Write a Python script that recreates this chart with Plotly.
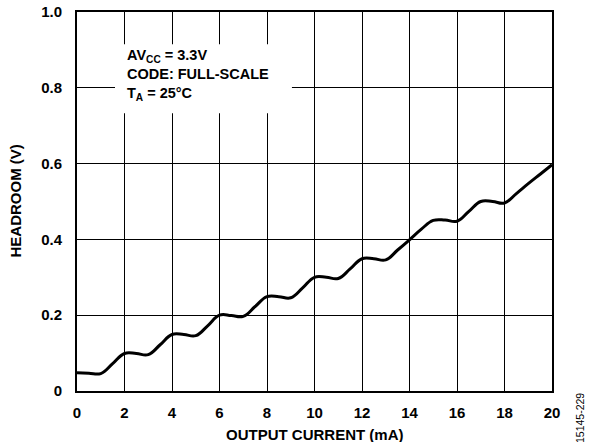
import plotly.graph_objects as go

output_current_ma = [0, 0.5, 1, 1.5, 2, 2.5, 3, 3.5, 4, 4.5, 5, 5.5, 6, 6.5, 7, 7.5, 8, 8.5, 9, 9.5,
                     10, 10.5, 11, 11.5, 12, 12.5, 13, 13.5, 14, 14.5, 15, 15.5, 16, 16.5, 17, 17.5,
                     18, 18.5, 19, 19.5, 20]
headroom_v = [0.048, 0.047, 0.046, 0.072, 0.099, 0.099, 0.096, 0.122, 0.149, 0.149, 0.146, 0.172,
              0.200, 0.199, 0.197, 0.223, 0.249, 0.249, 0.246, 0.272, 0.300, 0.300, 0.297, 0.322,
              0.349, 0.349, 0.346, 0.372, 0.399, 0.427, 0.450, 0.451, 0.448, 0.474, 0.500, 0.500,
              0.496, 0.521, 0.547, 0.572, 0.597]

x_tick_vals = [0, 2, 4, 6, 8, 10, 12, 14, 16, 18, 20]
y_tick_vals = [0, 0.2, 0.4, 0.6, 0.8, 1.0]
y_tick_text = ["0", "0.2", "0.4", "0.6", "0.8", "1.0"]

FONT = "Liberation Sans, Arial, sans-serif"
FS = 15

fig = go.Figure()
fig.add_trace(go.Scatter(
    x=output_current_ma, y=headroom_v, mode="lines",
    line=dict(color="black", width=3, shape="spline", smoothing=1.2),
    showlegend=False, hoverinfo="skip",
))

# white box behind the condition text (covers grid lines)
fig.add_shape(type="rect", xref="x", yref="y", x0=1.6, x1=9.05, y0=0.733, y1=0.915,
              fillcolor="white", line=dict(width=0), layer="above")
fig.add_annotation(
    xref="x", yref="y", x=2.0, y=0.912, xanchor="left", yanchor="top",
    text="AV<sub>CC</sub> = 3.3V<br>CODE: FULL-SCALE<br>T<sub>A</sub> = 25°C",
    showarrow=False, align="left",
    font=dict(family=FONT, size=14.5, color="black", weight="bold"),
)
# axis titles
fig.add_annotation(
    xref="paper", yref="paper", x=0.5, y=0, yshift=-43, xanchor="center", yanchor="middle",
    text="OUTPUT CURRENT (mA)", showarrow=False,
    font=dict(family=FONT, size=FS, color="black", weight="bold"),
)
fig.add_annotation(
    xref="paper", yref="paper", x=0, y=0.5, xshift=-62, xanchor="center", yanchor="middle",
    text="HEADROOM (V)", showarrow=False, textangle=-90,
    font=dict(family=FONT, size=FS, color="black", weight="bold"),
)
# figure id
fig.add_annotation(
    xref="paper", yref="paper", x=1.0, y=0.0, xshift=28, yshift=-27,
    xanchor="center", yanchor="middle", textangle=-90,
    text="15145-229", showarrow=False,
    font=dict(family=FONT, size=10.5, color="black"),
)

fig.update_layout(
    width=594, height=442,
    margin=dict(l=77, r=42, t=12, b=51, autoexpand=False),
    paper_bgcolor="white", plot_bgcolor="white",
    font=dict(family=FONT, size=FS, color="black"),
)
fig.update_xaxes(
    range=[0, 20], tickvals=x_tick_vals,
    showgrid=True, gridcolor="black", gridwidth=1,
    showline=True, linecolor="black", linewidth=2, mirror=True,
    ticks="outside", ticklen=7, tickcolor="rgba(0,0,0,0)",
    zeroline=False, automargin=False,
    tickfont=dict(family=FONT, size=FS, weight="bold"),
)
fig.update_yaxes(
    range=[0, 1.0], tickvals=y_tick_vals, ticktext=y_tick_text,
    showgrid=True, gridcolor="black", gridwidth=1,
    showline=True, linecolor="black", linewidth=2, mirror=True,
    ticks="outside", ticklen=10, tickcolor="rgba(0,0,0,0)",
    zeroline=False, automargin=False,
    tickfont=dict(family=FONT, size=FS, weight="bold"),
)

fig.write_html("out.html", config={"displayModeBar": False},
               post_script="document.body.style.margin='0';")
